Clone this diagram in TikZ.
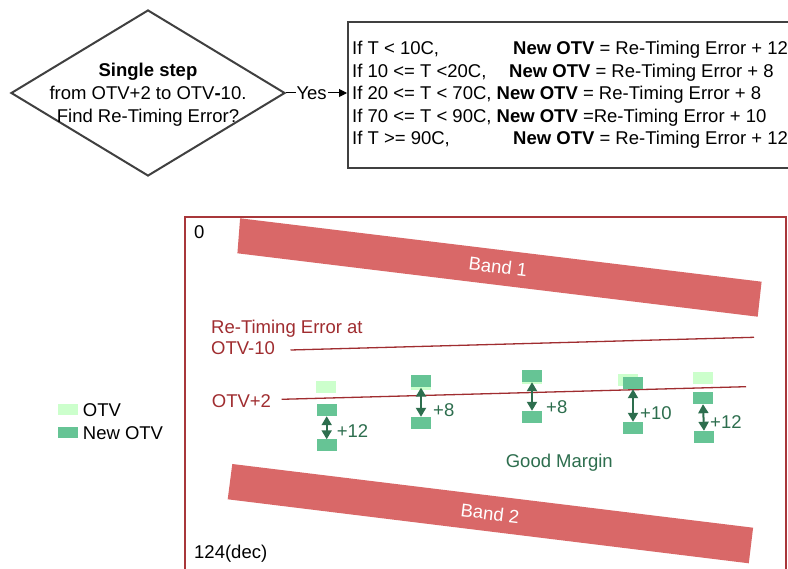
\documentclass[tikz,border=0pt]{standalone}
\usepackage{fontspec}
\setmainfont{Liberation Sans}
\usetikzlibrary{shapes.geometric,arrows.meta}
\definecolor{bandred}{RGB}{217,104,104}
\definecolor{framered}{RGB}{168,55,58}
\definecolor{txtred}{RGB}{160,45,48}
\definecolor{txtgreen}{RGB}{45,110,78}
\definecolor{newgreen}{RGB}{102,196,149}
\definecolor{otvgreen}{RGB}{204,255,204}
\definecolor{boxgray}{RGB}{64,64,64}
\tikzset{
  lbl/.style={inner sep=0pt, text height=13.3pt, text depth=0pt},
  decision/.style={diamond, draw=boxgray, line width=2pt, inner sep=0pt, minimum width=274pt, minimum height=166pt},
  rulebox/.style={draw=boxgray, line width=2pt, inner sep=0pt, minimum width=460pt, minimum height=146pt},
  newotv/.style={fill=newgreen, inner sep=0pt, minimum width=20pt, minimum height=12pt},
  oldotv/.style={fill=otvgreen, inner sep=0pt, minimum width=20pt, minimum height=11.5pt},
  dbl/.style={draw=txtgreen, line width=2pt, {Triangle[length=9pt,width=10pt]}-{Triangle[length=9pt,width=10pt]}},
  redline/.style={draw=txtred, line width=1.3pt},
  gtxt/.style={lbl, text=txtgreen, anchor=west},
}
\begin{document}
\begin{tikzpicture}[x=1pt,y=-1pt, font=\fontsize{18.5}{23}\selectfont]
\clip (0,0) rectangle (788,569);
\fill[white] (0,0) rectangle (788,569);

% decision diamond
\node[decision] (dec) at (148,93) {};
\node[align=center, inner sep=0pt] (dectext) at (148,94.5) {\textbf{Single step}\\from OTV+2 to OTV\textbf{-}10.\\Find Re-Timing Error?};

% rules box
\node[rulebox, anchor=north west] (rules) at (347,21) {};
\node[lbl, anchor=west] (r1a) at (352,48) {If T < 10C,};
\node[lbl, anchor=west] (r1b) at (513,48) {\textbf{New OTV} = Re-Timing Error + 12};
\node[lbl, anchor=west] (r2a) at (352,70.5) {If 10 <= T <20C,};
\node[lbl, anchor=west] (r2b) at (509,70.5) {\textbf{New OTV} = Re-Timing Error + 8};
\node[lbl, anchor=west] (r3) at (352,93) {If 20 <= T < 70C, \textbf{New OTV} = Re-Timing Error + 8};
\node[lbl, anchor=west] (r4) at (352,115.5) {If 70 <= T < 90C, \textbf{New OTV} =Re-Timing Error + 10};
\node[lbl, anchor=west] (r5a) at (352,138) {If T >= 90C,};
\node[lbl, anchor=west] (r5b) at (513,138) {\textbf{New OTV} = Re-Timing Error + 12};

\draw[line width=1pt, -{Triangle[length=8pt,width=8pt]}] (dec.east) -- node[pos=0.42, fill=white, inner sep=1pt] (yes) {Yes} (dec.east -| rules.west);

% frame
\draw[framered, line width=2pt] (185,217) rectangle (786,600);
\node[lbl, anchor=west] (zero) at (194,232) {0};
\node[lbl, anchor=west] (dec124) at (194,551.7) {124(dec)};

% bands
\fill[bandred] (240.1,218.3) -- (761.6,281.7) -- (757.7,316.7) -- (237.4,253.3) -- cycle;
\node[lbl, text=white, rotate=-7] (band1) at (498,266.7) {Band 1};
\fill[bandred] (232.3,464) -- (753.1,527.7) -- (748.8,563.3) -- (227.7,499.3) -- cycle;
\node[lbl, text=white, rotate=-7] (band2) at (490,513.3) {Band 2};

% reference lines
\node[lbl, anchor=west, text=txtred] (rte1) at (211,326.7) {Re-Timing Error at};
\node[lbl, anchor=west, text=txtred] (rte2) at (211,348) {OTV-10};
\coordinate (l10a) at (290.5,350);
\coordinate (l10b) at (754,337.3);
\draw[redline] (l10a) -- (l10b);
\node[lbl, anchor=west, text=txtred] (otv2) at (211.7,400.7) {OTV+2};
\coordinate (l2a) at (281.7,399.3);
\coordinate (l2b) at (746,386.7);
\draw[redline] (l2a) -- (l2b);

% markers
\node[oldotv] (o1) at (326,387) {};
\node[newotv] (t1) at (326.7,410) {};
\node[newotv] (b1) at (326.7,445.5) {};
\draw[dbl] (t1.south) -- (b1.north);
\node[gtxt] (p1) at (336.7,431) {+12};

\node[oldotv] (o2) at (421,384.5) {};
\node[newotv] (t2) at (421,381.5) {};
\node[newotv] (b2) at (421,423) {};
\draw[dbl] (t2.south) -- (b2.north);
\node[gtxt] (p2) at (433,410) {+8};

\node[oldotv] (o3) at (532,378.5) {};
\node[newotv] (t3) at (532,376) {};
\node[newotv] (b3) at (532,417) {};
\draw[dbl] (t3.south) -- (b3.north);
\node[gtxt] (p3) at (546,407.3) {+8};

\node[oldotv] (o4) at (628,380) {};
\node[newotv] (t4) at (633,383) {};
\node[newotv] (b4) at (633,428) {};
\draw[dbl] (t4.south) -- (b4.north);
\node[gtxt] (p4) at (640,412.7) {+10};

\node[oldotv] (o5) at (703,378) {};
\node[newotv] (t5) at (703,398) {};
\node[newotv] (b5) at (704,437) {};
\draw[dbl] (t5.south) -- (b5.north);
\node[gtxt] (p5) at (710,421.7) {+12};

\node[lbl, text=txtgreen] (good) at (559.3,460.5) {Good Margin};

% legend
\node[oldotv, minimum width=19.4pt, minimum height=10.7pt] (lg1) at (68,409.7) {};
\node[lbl, anchor=west] (lg1t) at (82.7,410) {OTV};
\node[newotv, minimum width=19.4pt, minimum height=10.4pt] (lg2) at (68,432.5) {};
\node[lbl, anchor=west] (lg2t) at (82.7,432.7) {New OTV};
\end{tikzpicture}
\end{document}
